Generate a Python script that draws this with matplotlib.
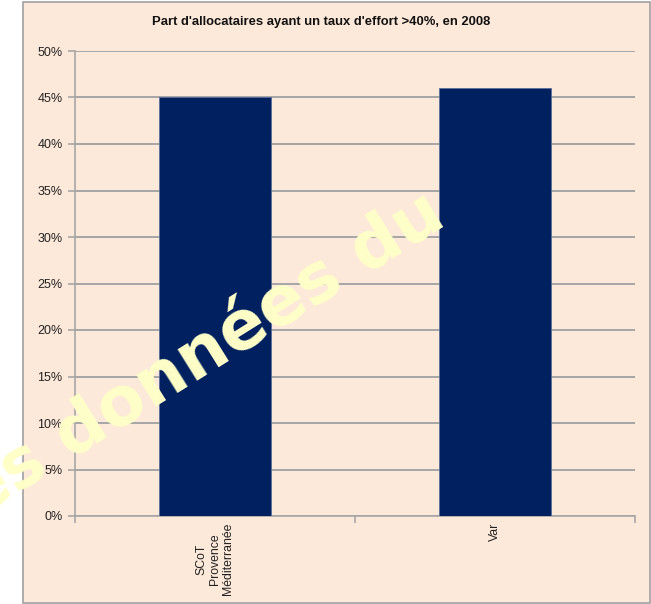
import matplotlib.pyplot as plt
from matplotlib.patches import Rectangle
from matplotlib.ticker import PercentFormatter

# Data
categories = ['SCoT\nProvence\nMéditerranée', 'Var']
values = [45.0, 46.0]
yticks = [0, 5, 10, 15, 20, 25, 30, 35, 40, 45, 50]
title = "Part d'allocataires ayant un taux d'effort >40%, en 2008"

font = ['Liberation Sans Narrow', 'Liberation Sans', 'DejaVu Sans']
plt.rcParams['font.family'] = font

bg = '#FDE9DA'
grid_col = '#A6A6A6'

fig = plt.figure(figsize=(6.51, 6.04), dpi=100)
fig.patch.set_facecolor('white')

# chart panel
panel = Rectangle((23 / 651, 1 / 604), 627 / 651, 601 / 604, transform=fig.transFigure,
                  facecolor=bg, edgecolor='#A0A0A0', linewidth=1.2, zorder=-5)
fig.patches.append(panel)

ax = fig.add_axes([75 / 651, 1 - 516 / 604, 560 / 651, 465 / 604])
ax.set_facecolor(bg)
ax.set_zorder(1)

x = range(len(categories))
ax.bar(x, values, width=0.4, color='#002060', edgecolor='#5A6E9A', linewidth=0.6, zorder=3)

ax.set_xlim(-0.5, 1.5)
ax.set_ylim(0, 50)
ax.set_yticks(yticks)
ax.yaxis.set_major_formatter(PercentFormatter(decimals=0))
ax.grid(axis='y', color=grid_col, linewidth=1.4, zorder=1)
ax.set_axisbelow(True)

ax.set_xticks(list(x))
ax.set_xticklabels(categories, rotation=90, va='top', ha='center', multialignment='center',
                   linespacing=1.15)
ax.set_xticks([-0.5, 0.5, 1.5], minor=True)
ax.tick_params(axis='x', which='major', length=0, pad=5, labelsize=8.8, colors='#222222')
ax.tick_params(axis='x', which='minor', length=5, width=1.2, color=grid_col, direction='out')
ax.tick_params(axis='y', length=5, width=1.2, color=grid_col, labelsize=9, pad=4, labelcolor='#222222')

for s in ['top', 'right']:
    ax.spines[s].set_visible(False)
for s in ['left', 'bottom']:
    ax.spines[s].set_color(grid_col)
    ax.spines[s].set_linewidth(1.2)

fig.text(321 / 651, 1 - 22 / 604, title, ha='center', va='center',
         fontsize=9.4, fontweight='bold', color='#111111')

# watermark
fig.text(203 / 651, 1 - 355 / 604, 'es données du', ha='center', va='center',
         rotation=32, rotation_mode='anchor', fontsize=49, fontweight='bold',
         color='#FFFFC8', family=['DejaVu Sans'], zorder=10)

fig.savefig('out.png', dpi=100)
